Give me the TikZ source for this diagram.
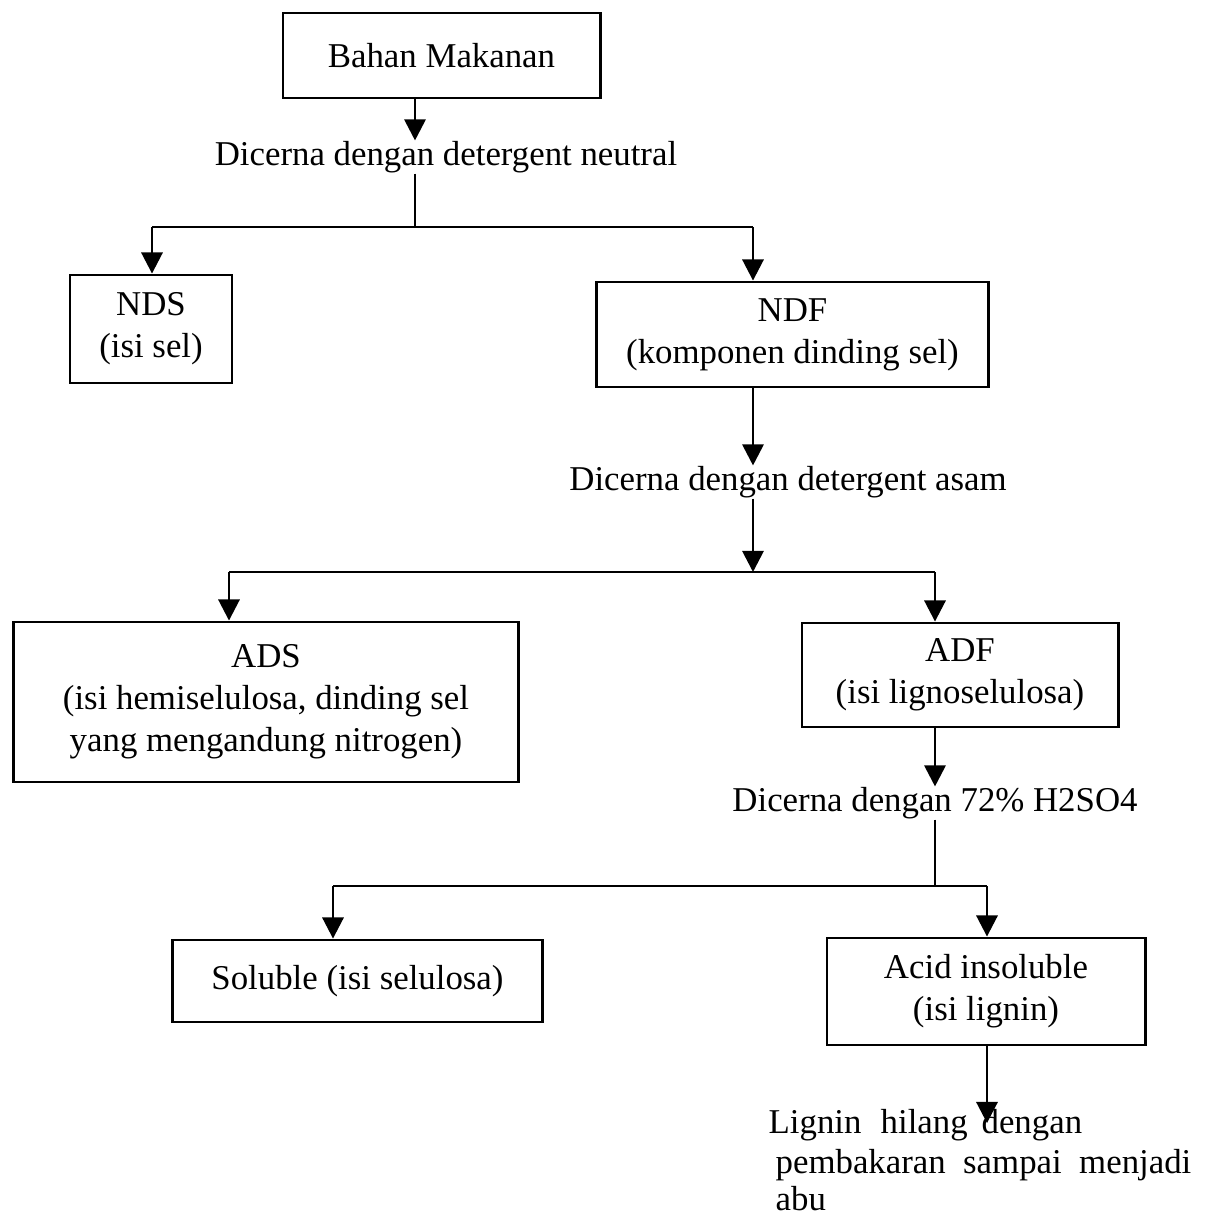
\documentclass[tikz,border=0pt]{standalone}
\usepackage{fontspec}
\setmainfont{Liberation Serif}
\usetikzlibrary{arrows.meta}

\tikzset{
	kotak/.style={draw, line width=0.8pt, align=center, inner sep=0pt},
	teks/.style={align=center, inner sep=0pt},
	garis/.style={line width=0.8pt},
	panah/.style={line width=0.8pt, -{Triangle[width=6pt,length=6pt]}},
}

\begin{document}
\begin{tikzpicture}[x=0.01cm, y=-0.01cm, font=\fontsize{9.9}{12}\selectfont]
	\useasboundingbox (0,0) rectangle (1206,1217);

	\node [kotak, minimum width=3.17cm, minimum height=0.85cm] (bm) at (441.5,55.5) {Bahan Makanan};
	\node [teks] (dn) at (446,157) {Dicerna dengan detergent neutral};
	\node [kotak, minimum width=1.62cm, minimum height=1.08cm] (nds) at (151,329) {NDS\\(isi sel)};
	\node [kotak, minimum width=3.91cm, minimum height=1.05cm] (ndf) at (792.5,334.5) {NDF\\(komponen dinding sel)};
	\node [teks] (da) at (788,482) {Dicerna dengan detergent asam};
	\node [kotak, minimum width=5.04cm, minimum height=1.6cm] (ads) at (266,702) {ADS\\(isi hemiselulosa, dinding sel\\yang mengandung nitrogen)};
	\node [kotak, minimum width=3.16cm, minimum height=1.04cm] (adf) at (960,675) {ADF\\(isi lignoselulosa)};
	\node [teks] (dh) at (935,803) {Dicerna dengan 72\% H2SO4};
	\node [kotak, minimum width=3.69cm, minimum height=0.82cm] (sol) at (357.5,981) {Soluble (isi selulosa)};
	\node [kotak, minimum width=3.18cm, minimum height=1.07cm] (ai) at (986,991.5) {Acid insoluble\\(isi lignin)};
	\node [teks, align=left, anchor=north west, font=\fontsize{9.9}{10.4}\selectfont] (lh) at (768,1109) {Lignin\hspace{0.55em}hilang\hspace{0.4em}dengan\\[1pt]
		\hspace*{0.2em}pembakaran\hspace{0.5em}sampai\hspace{0.5em}menjadi\\
		\hspace*{0.2em}abu};

	\coordinate (j1) at (415,227);
	\coordinate (l1) at (152,227);
	\coordinate (r1) at (753,227);
	\coordinate (j2) at (753,572);
	\coordinate (l2) at (229,572);
	\coordinate (r2) at (935,572);
	\coordinate (j3) at (935,886);
	\coordinate (l3) at (333,886);
	\coordinate (r3) at (987,886);

	\draw [panah] (bm.south -| j1) -- (dn.north -| j1);
	\draw [garis] (dn.south -| j1) -- (j1);
	\draw [garis] (l1) -- (r1);
	\draw [panah] (l1) -- (nds.north -| l1);
	\draw [panah] (r1) -- (ndf.north -| r1);

	\draw [panah] (ndf.south -| j2) -- (da.north -| j2);
	\draw [panah] (da.south -| j2) -- (j2);
	\draw [garis] (l2) -- (r2);
	\draw [panah] (l2) -- (ads.north -| l2);
	\draw [panah] (r2) -- (adf.north -| r2);

	\draw [panah] (adf.south -| j3) -- (dh.north -| j3);
	\draw [garis] (dh.south -| j3) -- (j3);
	\draw [garis] (l3) -- (r3);
	\draw [panah] (l3) -- (sol.north -| l3);
	\draw [panah] (r3) -- (ai.north -| r3);

	\draw [panah, shorten >=-4pt] (ai.south -| r3) -- (lh.north -| r3);

\end{tikzpicture}
\end{document}
